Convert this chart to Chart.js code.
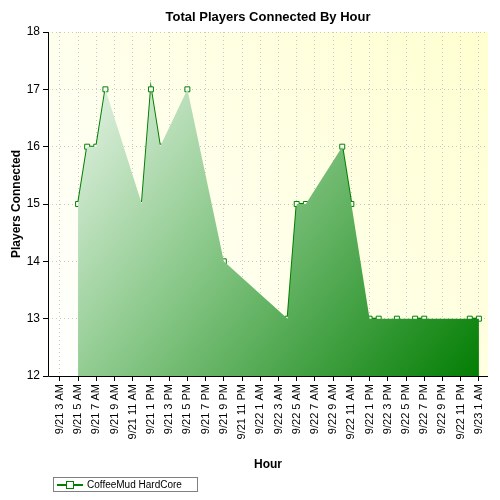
<!DOCTYPE html>
<html>
<head>
<meta charset="utf-8">
<script src="https://cdn.jsdelivr.net/npm/chart.js@4"></script>
<style>
  body { margin: 0; background: #fff; }
  #wrap { width: 500px; height: 500px; position: relative; }
</style>
</head>
<body>
<div id="wrap"><canvas id="c" width="500" height="500"></canvas></div>
<script>
// Hours counted from 9/21 3 AM
const hours = [2, 3, 4, 5, 9, 10, 11, 14, 18, 25, 26, 27, 31, 32, 34, 35, 37, 39, 40, 45, 46];
const players = [15, 16, 16, 17, 15, 17, 16, 17, 14, 13, 15, 15, 16, 15, 13, 13, 13, 13, 13, 13, 13];
const tickLabels = ['9/21 3 AM', '9/21 5 AM', '9/21 7 AM', '9/21 9 AM', '9/21 11 AM', '9/21 1 PM',
    '9/21 3 PM', '9/21 5 PM', '9/21 7 PM', '9/21 9 PM', '9/21 11 PM', '9/22 1 AM', '9/22 3 AM',
    '9/22 5 AM', '9/22 7 AM', '9/22 9 AM', '9/22 11 AM', '9/22 1 PM', '9/22 3 PM', '9/22 5 PM',
    '9/22 7 PM', '9/22 9 PM', '9/22 11 PM', '9/23 1 AM'];
const seriesName = 'CoffeeMud HardCore';
const chartTitle = 'Total Players Connected By Hour';

const FONT = 'Liberation Sans, Arial, sans-serif';
const points = hours.map((h, i) => ({ x: h, y: players[i] }));

// Plot background + title + legend box
const decor = {
    id: 'decor',
    beforeDraw(chart) {
        const { ctx, chartArea: a } = chart;
        const g = ctx.createLinearGradient(a.left, a.bottom, a.right, a.top);
        g.addColorStop(0, '#ffffff');
        g.addColorStop(1, '#ffffd0');
        ctx.save();
        ctx.fillStyle = g;
        ctx.fillRect(a.left, a.top, a.right - a.left, a.bottom - a.top);
        ctx.restore();
    },
    afterDraw(chart) {
        const { ctx, chartArea: a } = chart;
        ctx.save();
        ctx.fillStyle = '#000';
        ctx.font = 'bold 13px ' + FONT;
        ctx.textAlign = 'center';
        ctx.textBaseline = 'middle';
        ctx.fillText(chartTitle, (a.left + a.right) / 2, 17);
        // axis lines
        ctx.strokeStyle = '#000';
        ctx.lineWidth = 1;
        ctx.beginPath();
        ctx.moveTo(a.left + 0.5, a.top);
        ctx.lineTo(a.left + 0.5, a.bottom + 0.5);
        ctx.lineTo(a.right, a.bottom + 0.5);
        ctx.stroke();
        // legend
        ctx.strokeStyle = '#808080';
        ctx.strokeRect(53.5, 477.5, 144, 14);
        ctx.strokeStyle = '#008000';
        ctx.lineWidth = 2;
        ctx.beginPath();
        ctx.moveTo(57, 485);
        ctx.lineTo(83, 485);
        ctx.stroke();
        ctx.fillStyle = '#fff';
        ctx.lineWidth = 1;
        ctx.fillRect(66.5, 481.5, 7, 7);
        ctx.strokeRect(66.5, 481.5, 7, 7);
        ctx.fillStyle = '#000';
        ctx.font = '10px ' + FONT;
        ctx.textAlign = 'left';
        ctx.fillText(seriesName, 87, 485);
        ctx.restore();
    }
};

new Chart(document.getElementById('c'), {
    type: 'line',
    data: {
        datasets: [{
            // filled area
            label: seriesName + ' area',
            data: points,
            borderWidth: 0,
            borderColor: 'rgba(0,0,0,0)',
            pointRadius: 0,
            tension: 0,
            fill: 'start',
            backgroundColor: (ctx) => {
                const a = ctx.chart.chartArea;
                if (!a) return 'rgba(0,128,0,0.5)';
                const g = ctx.chart.ctx.createLinearGradient(a.left, a.top, a.right, a.bottom);
                g.addColorStop(0, '#ffffff');
                g.addColorStop(0.45, '#8cc98c');
                g.addColorStop(1, '#007c00');
                return g;
            }
        }, {
            label: seriesName,
            data: points,
            borderColor: '#008000',
            borderWidth: 2,
            tension: 0,
            fill: false,
            segment: {
                borderColor: (s) => (s.p1.parsed.x - s.p0.parsed.x > 1 ? 'rgba(0,0,0,0)' : '#008000')
            },
            pointStyle: 'rect',
            pointRadius: 3.5,
            pointBackgroundColor: '#fff',
            pointBorderColor: '#008000',
            pointBorderWidth: 1
        }]
    },
    options: {
        responsive: false,
        animation: false,
        devicePixelRatio: 1,
        layout: { padding: { top: 32, right: 12, bottom: 28, left: 9 } },
        plugins: { legend: { display: false }, title: { display: false }, tooltip: { enabled: false } },
        scales: {
            x: {
                type: 'linear',
                min: -1.3,
                max: 47,
                afterFit: (s) => { s.height = 96; },
                afterBuildTicks: (s) => { s.ticks = tickLabels.map((_, i) => ({ value: i * 2 })); },
                ticks: {
                    autoSkip: false,
                    maxRotation: 90,
                    minRotation: 90,
                    color: '#000',
                    font: { family: FONT, size: 11 },
                    callback: (v) => tickLabels[Math.round(v / 2)]
                },
                grid: { color: '#c8c8c8', tickColor: '#000', tickLength: 5, lineWidth: 1 },
                border: { display: false, dash: [1, 3] },
                title: { display: true, text: 'Hour', color: '#000', font: { family: FONT, size: 12, weight: 'bold' }, padding: 0 }
            },
            y: {
                min: 12,
                max: 18,
                afterFit: (s) => { s.width = 39; },
                ticks: { stepSize: 1, color: '#000', font: { family: FONT, size: 12 } },
                grid: { color: '#c8c8c8', tickColor: '#000', tickLength: 5 },
                border: { display: false, dash: [1, 3] },
                title: { display: true, text: 'Players Connected', color: '#000', font: { family: FONT, size: 12, weight: 'bold' }, padding: 0 }
            }
        }
    },
    plugins: [decor]
});
</script>
</body>
</html>
